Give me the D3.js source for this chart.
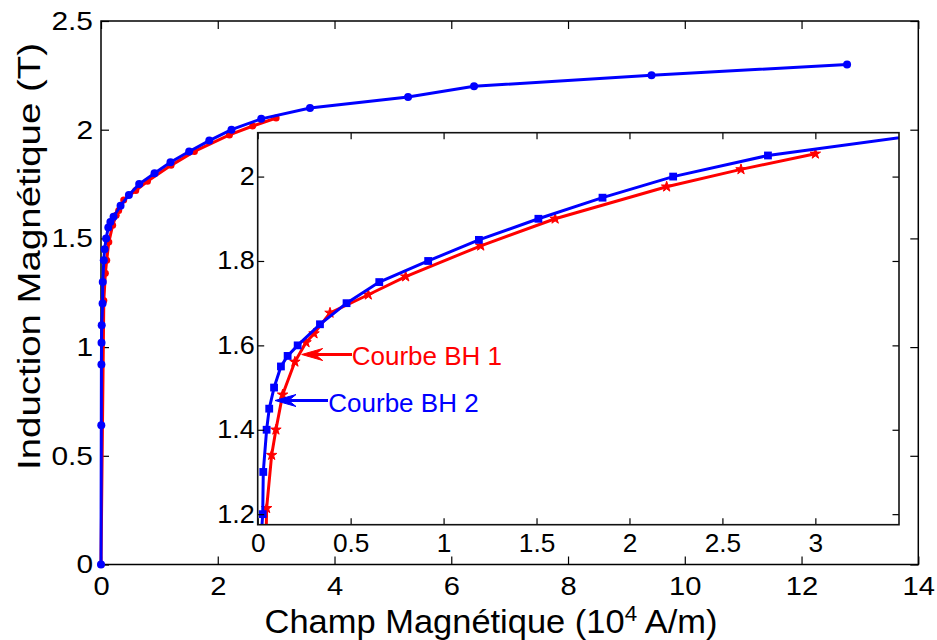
<!DOCTYPE html>
<html>
<head>
<meta charset="utf-8">
<script src="https://cdn.jsdelivr.net/npm/d3@7/dist/d3.min.js"></script>
<style>
  html, body { margin: 0; padding: 0; background: #fff; }
  svg { display: block; }
  text { font-family: "Liberation Sans", Arial, sans-serif; fill: #000; }
</style>
</head>
<body>
<svg id="chart" width="937" height="640"></svg>
<script>
// ---- Data (H in 10^4 A/m, B in T) ----
const blueH = [0, 0.005, 0.007, 0.009, 0.012, 0.027, 0.030, 0.048, 0.062, 0.088, 0.125, 0.161, 0.215, 0.335, 0.478, 0.654, 0.917, 1.19, 1.51, 1.855, 2.235, 2.745, 3.58, 5.26, 6.39, 9.43, 12.78];
const blueB = [0, 0.64, 0.92, 1.02, 1.10, 1.20, 1.30, 1.40, 1.45, 1.50, 1.55, 1.575, 1.60, 1.65, 1.70, 1.75, 1.80, 1.85, 1.90, 1.95, 2.00, 2.05, 2.10, 2.15, 2.20, 2.25, 2.30];
const redH = [0, 0.048, 0.075, 0.098, 0.134, 0.20, 0.26, 0.303, 0.389, 0.595, 0.796, 1.20, 1.60, 2.20, 2.60, 3.00];
const redB = [0, 1.214, 1.34, 1.40, 1.483, 1.561, 1.607, 1.628, 1.677, 1.72, 1.763, 1.836, 1.90, 1.976, 2.017, 2.054];

const mainXTicks = [0, 2, 4, 6, 8, 10, 12, 14];
const mainYTicks = [0, 0.5, 1, 1.5, 2, 2.5];
const insetXTicks = [0, 0.5, 1, 1.5, 2, 2.5, 3];
const insetYTicks = [1.2, 1.4, 1.6, 1.8, 2];

const xTitle = "Champ Magnétique (10";
const yTitle = "Induction Magnétique (T)";
const label1 = "Courbe BH 1";
const label2 = "Courbe BH 2";

const BLUE = "#0000ff", RED = "#ff0000";

const blue = blueH.map((h, i) => ({h, b: blueB[i]}));
const red = redH.map((h, i) => ({h, b: redB[i]}));

const svg = d3.select("#chart");

// ---- Main axes ----
const M = {l: 101, r: 918.3, t: 21, b: 564.5};
const x = d3.scaleLinear().domain([0, 14]).range([M.l, M.r]);
const y = d3.scaleLinear().domain([0, 2.5]).range([M.b, M.t]);

const fmt = d => String(d);

function styleAxis(g, size, stretch) {
  g.selectAll("path.domain").remove();
  g.selectAll(".tick line").attr("stroke", "#000").attr("stroke-width", 1.2);
  g.selectAll("text").style("font-size", size + "px").attr("fill", "#000")
    .each(function () {
      if (!this.textContent) return;
      const w = this.getComputedTextLength();
      d3.select(this).attr("textLength", w * stretch).attr("lengthAdjust", "spacingAndGlyphs");
    });
}

svg.append("g").attr("transform", `translate(0,${M.b})`)
  .call(d3.axisBottom(x).tickValues(mainXTicks).tickFormat(fmt).tickSizeInner(-8).tickSizeOuter(0).tickPadding(12))
  .call(g => styleAxis(g, 26, 1.12));
svg.append("g").attr("transform", `translate(0,${M.t})`)
  .call(d3.axisTop(x).tickValues(mainXTicks).tickFormat("").tickSizeInner(-8).tickSizeOuter(0))
  .call(g => styleAxis(g, 26, 1));
svg.append("g").attr("transform", `translate(${M.l},0)`)
  .call(d3.axisLeft(y).tickValues(mainYTicks).tickFormat(fmt).tickSizeInner(-8).tickSizeOuter(0).tickPadding(8))
  .call(g => styleAxis(g, 26, 1.15));
svg.append("g").attr("transform", `translate(${M.r},0)`)
  .call(d3.axisRight(y).tickValues(mainYTicks).tickFormat("").tickSizeInner(-8).tickSizeOuter(0))
  .call(g => styleAxis(g, 26, 1));

svg.append("rect").attr("x", M.l).attr("y", M.t).attr("width", M.r - M.l).attr("height", M.b - M.t)
  .attr("fill", "none").attr("stroke", "#000").attr("stroke-width", 1.5);

const lineMain = d3.line().x(d => x(d.h)).y(d => y(d.b));
svg.append("path").datum(red).attr("d", lineMain).attr("fill", "none").attr("stroke", RED).attr("stroke-width", 3);
svg.append("g").selectAll("circle").data(red).join("circle")
  .attr("cx", d => x(d.h)).attr("cy", d => y(d.b)).attr("r", 3.5).attr("fill", RED);
svg.append("path").datum(blue).attr("d", lineMain).attr("fill", "none").attr("stroke", BLUE).attr("stroke-width", 3);
svg.append("g").selectAll("circle").data(blue).join("circle")
  .attr("cx", d => x(d.h)).attr("cy", d => y(d.b)).attr("r", 4).attr("fill", BLUE);

// Titles
const xt = svg.append("text").attr("x", 491).attr("y", 633).attr("text-anchor", "middle")
  .style("font-size", "34px").attr("textLength", 453).attr("lengthAdjust", "spacingAndGlyphs");
xt.append("tspan").text(xTitle);
xt.append("tspan").attr("dy", -12).style("font-size", "22px").text("4");
xt.append("tspan").attr("dy", 12).text(" A/m)");

svg.append("text").attr("transform", "translate(39.5,256.5) rotate(-90)").attr("text-anchor", "middle")
  .style("font-size", "32px").attr("textLength", 427).attr("lengthAdjust", "spacingAndGlyphs").text(yTitle);

// ---- Inset ----
const I = {l: 257.7, r: 899, t: 132.7, b: 524.7};
const xi = d3.scaleLinear().domain([0, 3.45]).range([I.l, I.r]);
const yi = d3.scaleLinear().domain([1.175, 2.104]).range([I.b, I.t]);

svg.append("rect").attr("x", I.l).attr("y", I.t).attr("width", I.r - I.l).attr("height", I.b - I.t)
  .attr("fill", "#fff");

svg.append("defs").append("clipPath").attr("id", "insetClip").append("rect")
  .attr("x", I.l).attr("y", I.t).attr("width", I.r - I.l).attr("height", I.b - I.t);

const gi = svg.append("g").attr("clip-path", "url(#insetClip)");
const lineInset = d3.line().x(d => xi(d.h)).y(d => yi(d.b));
gi.append("path").datum(red).attr("d", lineInset).attr("fill", "none").attr("stroke", RED).attr("stroke-width", 3);
gi.append("g").selectAll("path").data(red).join("path")
  .attr("transform", d => `translate(${xi(d.h)},${yi(d.b)})`)
  .attr("d", d3.symbol(d3.symbolStar).size(34)).attr("fill", RED).attr("stroke", RED).attr("stroke-width", 1);
gi.append("path").datum(blue).attr("d", lineInset).attr("fill", "none").attr("stroke", BLUE).attr("stroke-width", 3);
gi.append("g").selectAll("rect").data(blue).join("rect")
  .attr("x", d => xi(d.h) - 3.9).attr("y", d => yi(d.b) - 3.9).attr("width", 7.8).attr("height", 7.8).attr("fill", BLUE);

svg.append("g").attr("transform", `translate(0,${I.b})`)
  .call(d3.axisBottom(xi).tickValues(insetXTicks).tickFormat(fmt).tickSizeInner(-6.5).tickSizeOuter(0).tickPadding(10))
  .call(g => styleAxis(g, 25, 1.05));
svg.append("g").attr("transform", `translate(0,${I.t})`)
  .call(d3.axisTop(xi).tickValues(insetXTicks).tickFormat("").tickSizeInner(-6.5).tickSizeOuter(0))
  .call(g => styleAxis(g, 25, 1));
svg.append("g").attr("transform", `translate(${I.l},0)`)
  .call(d3.axisLeft(yi).tickValues(insetYTicks).tickFormat(fmt).tickSizeInner(-6.5).tickSizeOuter(0).tickPadding(3))
  .call(g => styleAxis(g, 25, 1.08));
svg.append("g").attr("transform", `translate(${I.r},0)`)
  .call(d3.axisRight(yi).tickValues(insetYTicks).tickFormat("").tickSizeInner(-6.5).tickSizeOuter(0))
  .call(g => styleAxis(g, 25, 1));

svg.append("rect").attr("x", I.l).attr("y", I.t).attr("width", I.r - I.l).attr("height", I.b - I.t)
  .attr("fill", "none").attr("stroke", "#111").attr("stroke-width", 1.6);

// ---- Annotations ----
function arrow(x0, x1, yy, color) {
  const L = 21, w = 6;
  svg.append("line").attr("x1", x0).attr("y1", yy).attr("x2", x1 + L * 0.6).attr("y2", yy)
    .attr("stroke", color).attr("stroke-width", 3);
  svg.append("path")
    .attr("d", `M${x1},${yy} L${x1 + L},${yy - w} L${x1 + L * 0.65},${yy} L${x1 + L},${yy + w} Z`)
    .attr("fill", color).attr("stroke", color).attr("stroke-width", 1);
}
arrow(352, 301.7, 354.5, RED);
arrow(328, 275, 400.5, BLUE);

svg.append("text").attr("x", 351.7).attr("y", 365).style("font-size", "26px")
  .style("fill", RED).text(label1);
svg.append("text").attr("x", 328.3).attr("y", 411.5).style("font-size", "26px")
  .style("fill", BLUE).text(label2);
</script>
</body>
</html>
